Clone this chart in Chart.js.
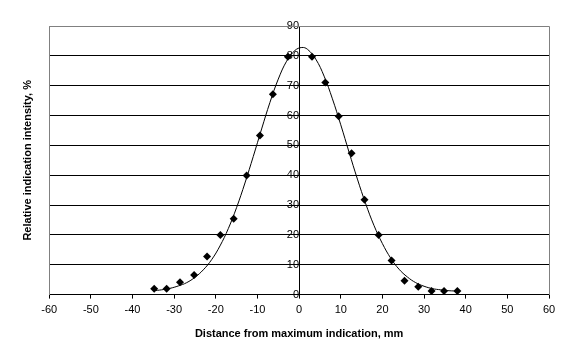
<!DOCTYPE html>
<html lang="en">
<head>
  <meta charset="UTF-8">
  <title>Relative indication intensity</title>
  <style>
    html, body {
      margin: 0;
      padding: 0;
      background: #fff;
    }
    #wrap {
      width: 576px;
      height: 360px;
    }
  </style>
  <script src="https://cdn.jsdelivr.net/npm/chart.js"></script>
</head>
<body>
  <div id="wrap"><canvas id="chart" width="576" height="360"></canvas></div>

  <script>
    // measured points (distance in mm, intensity in %)
    var pointX = [-34.8, -31.8, -28.6, -25.2, -22.1, -18.9, -15.7, -12.6, -9.4, -6.3, -2.7,
                  3.1, 6.3, 9.5, 12.6, 15.7, 19.1, 22.2, 25.3, 28.6, 31.8, 34.8, 38.0];
    var pointY = [2.0, 2.0, 4.1, 6.6, 12.8, 20.0, 25.4, 39.9, 53.3, 67.1, 79.7,
                  79.7, 71.1, 59.8, 47.4, 31.8, 20.0, 11.4, 4.6, 2.6, 1.2, 1.2, 1.2];

    // fitted curve
    var curveX = [-35, -33, -31, -29, -27, -25, -23, -21, -19, -17, -15, -13, -11, -9, -7, -5, -3, -1,
                  0.65, 2, 4, 6, 8, 10, 12, 14, 16, 18, 20, 22, 24, 26, 28, 30, 32, 34, 36, 38];
    var curveY = [1.3, 1.6, 2.1, 2.9, 4.0, 5.8, 8.3, 11.7, 16.3, 22.1, 29.2, 37.4, 46.3, 55.5, 64.4, 72.2, 78.2, 81.8,
                  82.8, 82.2, 78.9, 73.2, 65.6, 56.9, 47.7, 38.7, 30.4, 23.1, 17.1, 12.2, 8.5, 5.9, 4.0, 2.8, 2.0, 1.6, 1.3, 1.2];

    var xMin = -60, xMax = 60, xStep = 10;
    var yMin = 0, yMax = 90, yStep = 10;

    function toXY(xs, ys) {
      var out = [];
      for (var i = 0; i < xs.length; i++) {
        out.push({ x: xs[i], y: ys[i] });
      }
      return out;
    }

    // gray frame round the plot area (left, top, right)
    var frame = {
      id: 'frame',
      beforeDatasetsDraw: function (chart) {
        var a = chart.chartArea;
        var c = chart.ctx;
        c.save();
        c.strokeStyle = '#808080';
        c.lineWidth = 1;
        c.beginPath();
        c.moveTo(Math.round(a.left) + 0.5, Math.round(a.bottom));
        c.lineTo(Math.round(a.left) + 0.5, Math.round(a.top) + 0.5);
        c.lineTo(Math.round(a.right) + 0.5, Math.round(a.top) + 0.5);
        c.lineTo(Math.round(a.right) + 0.5, Math.round(a.bottom));
        c.stroke();
        c.restore();
      }
    };

    var tickFont = { family: 'Arial, "Liberation Sans", sans-serif', size: 11 };
    var titleFont = { family: 'Arial, "Liberation Sans", sans-serif', size: 11, weight: 'bold' };

    new Chart(document.getElementById('chart'), {
      type: 'scatter',
      data: {
        datasets: [
          {
            label: 'fit',
            data: toXY(curveX, curveY),
            showLine: true,
            borderColor: '#000',
            borderWidth: 1,
            pointRadius: 0,
            tension: 0.4,
            fill: false
          },
          {
            label: 'measured',
            data: toXY(pointX, pointY),
            showLine: false,
            pointStyle: 'rectRot',
            pointRadius: 4,
            backgroundColor: '#000',
            borderColor: '#000',
            borderWidth: 0
          }
        ]
      },
      options: {
        responsive: false,
        animation: false,
        layout: { padding: { left: 21, right: 27, top: 26, bottom: 19 } },
        plugins: {
          legend: { display: false },
          tooltip: { enabled: false }
        },
        scales: {
          x: {
            type: 'linear',
            min: xMin,
            max: xMax,
            ticks: { stepSize: xStep, color: '#000', font: tickFont, padding: 5 },
            grid: { drawOnChartArea: false, drawTicks: true, tickLength: 4, color: '#000' },
            border: { color: '#000' },
            title: {
              display: true,
              text: 'Distance from maximum indication, mm',
              color: '#000',
              font: titleFont,
              padding: { top: 6, bottom: 0 }
            }
          },
          y: {
            type: 'linear',
            min: yMin,
            max: yMax,
            position: { x: 0 },
            ticks: { stepSize: yStep, color: '#000', font: tickFont, padding: 5 },
            grid: {
              color: function (ctx) {
                return ctx.tick && ctx.tick.value === yMax ? '#808080' : '#000';
              },
              tickLength: 3
            },
            border: { color: '#000' }
          },
          yTitle: {
            type: 'linear',
            position: 'left',
            min: yMin,
            max: yMax,
            ticks: { display: false },
            grid: { display: false },
            border: { display: false },
            title: {
              display: true,
              text: 'Relative indication intensity, %',
              color: '#000',
              font: titleFont,
              padding: { top: 0, bottom: 7 }
            }
          }
        }
      },
      plugins: [frame]
    });
  </script>
</body>
</html>
